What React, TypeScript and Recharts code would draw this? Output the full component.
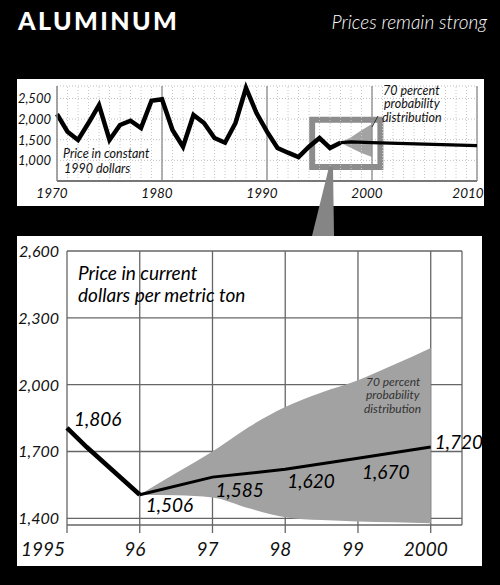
import React from 'react';
import {
  ComposedChart,
  Line,
  Area,
  XAxis,
  YAxis,
  CartesianGrid,
  ReferenceLine,
  ReferenceArea,
  ReferenceDot,
} from 'recharts';

const FONT = 'Lato, "Open Sans", "DejaVu Sans", sans-serif';

// ---------- Top chart: price in constant 1990 dollars ----------
const longYears: number[] = [];
for (let y = 1970; y <= 2010; y++) longYears.push(y);
const longHistoryYears = [
  1970, 1971, 1972, 1973, 1974, 1975, 1976, 1977, 1978, 1979, 1980, 1981, 1982, 1983,
  1984, 1985, 1986, 1987, 1988, 1989, 1990, 1991, 1992, 1993, 1994, 1995, 1996, 1997,
];
const longHistory = [
  2120, 1694, 1493, 1904, 2340, 1493, 1856, 1960, 1783, 2444, 2478, 1735, 1330, 2098,
  1904, 1541, 1427, 1904, 2752, 2146, 1694, 1299, 1185, 1081, 1330, 1541, 1299, 1427,
];
const longForecastYears = [1997, 1998, 2000, 2010];
const longForecast = [1427, 1445, 1430, 1355];
const longBandYears = [1997, 1998, 1999, 2000];
const longBandLow = [1427, 1300, 1180, 1080];
const longBandHigh = [1427, 1560, 1730, 1880];
const longXTicks = [1970, 1980, 1990, 2000, 2010];
const longYTicks = [1000, 1500, 2000, 2500];
const longYLabels = ['1,000', '1,500', '2,000', '2,500'];
const decadeLines = [1980, 1990, 2000, 2010];
const zoomBox = { x1: 1994.3, x2: 2000.8, y1: 840, y2: 1980 };

// ---------- Main chart: price in current dollars per metric ton ----------
const shortYears = [1995, 1995.27, 1996, 1996.5, 1997, 1997.5, 1998, 1998.5, 1999, 1999.5, 2000];
const shortHistory = [1806, 1720, 1506, null, null, null, null, null, null, null, null];
const shortForecast = [null, null, 1506, null, 1585, null, 1620, null, 1670, null, 1720];
const shortBandLow = [null, null, 1506, 1503, 1494, 1445, 1405, 1392, 1386, 1382, 1378];
const shortBandHigh = [null, null, 1506, 1603, 1700, 1810, 1900, 1965, 2020, 2090, 2165];
const shortXTicks = [1995, 1996, 1997, 1998, 1999, 2000];
const shortXLabels = ['1995', '96', '97', '98', '99', '2000'];
const shortYTicks = [1400, 1700, 2000, 2300, 2600];
const shortYLabels = ['1,400', '1,700', '2,000', '2,300', '2,600'];
const labelledYears = [1995, 1996, 1997, 1998, 1999, 2000];
const labelledValues = [1806, 1506, 1585, 1620, 1670, 1720];

// label placement (style only)
const LABEL_OFFSETS = [
  { dx: 7, dy: -2 },
  { dx: 6, dy: 17 },
  { dx: 3, dy: 20 },
  { dx: 2, dy: 19 },
  { dx: 4, dy: 21 },
  { dx: 4, dy: 2 },
];

const fmt = (v: number) => v.toLocaleString('en-US');

const longData = longYears.map((yr) => {
  const hi = longHistoryYears.indexOf(yr);
  const fi = longForecastYears.indexOf(yr);
  const bi = longBandYears.indexOf(yr);
  return {
    year: yr,
    hist: hi >= 0 ? longHistory[hi] : null,
    fc: fi >= 0 ? longForecast[fi] : null,
    band: bi >= 0 ? [longBandLow[bi], longBandHigh[bi]] : undefined,
  };
});

const shortData = shortYears.map((yr, i) => ({
  year: yr,
  hist: shortHistory[i],
  fc: shortForecast[i],
  band:
    shortBandLow[i] != null && shortBandHigh[i] != null
      ? [shortBandLow[i] as number, shortBandHigh[i] as number]
      : undefined,
}));

const TopXTick = (p: any) => {
  const last = p.payload.value === longXTicks[longXTicks.length - 1];
  return (
    <text
      x={p.x - (last ? 9 : 5)}
      y={p.y + 17}
      textAnchor="middle"
      fontFamily={FONT}
      fontStyle="italic"
      fontSize={13.5}
      fill="#111"
    >
      {p.payload.value}
    </text>
  );
};

const TopYTick = (p: any) => {
  const idx = longYTicks.indexOf(p.payload.value);
  return (
    <text
      x={p.x}
      y={p.y + 5}
      textAnchor="end"
      fontFamily={FONT}
      fontStyle="italic"
      fontSize={13}
      fill="#111"
    >
      {longYLabels[idx]}
    </text>
  );
};

const MainXTick = (p: any) => {
  const idx = shortXTicks.indexOf(p.payload.value);
  const first = idx === 0;
  return (
    <text
      x={first ? p.x - 2 : p.x - 5}
      y={p.y + 23}
      textAnchor={first ? 'end' : 'middle'}
      fontFamily={FONT}
      fontStyle="italic"
      fontSize={19}
      fill="#111"
    >
      {shortXLabels[idx]}
    </text>
  );
};

const MainYTick = (p: any) => {
  const idx = shortYTicks.indexOf(p.payload.value);
  return (
    <text
      x={p.x}
      y={p.y + 6}
      textAnchor="end"
      fontFamily={FONT}
      fontStyle="italic"
      fontSize={16}
      fill="#111"
    >
      {shortYLabels[idx]}
    </text>
  );
};

export default function App() {
  return (
    <div
      style={{
        position: 'absolute',
        left: 0,
        top: 0,
        width: 500,
        height: 585,
        background: '#000',
        overflow: 'hidden',
        fontFamily: FONT,
      }}
    >
      {/* top panel */}
      <div style={{ position: 'absolute', left: 17, top: 79, width: 467, height: 127, background: '#fff' }}>
        <ComposedChart
          width={467}
          height={127}
          data={longData}
          margin={{ top: 7, right: 7, bottom: 0, left: 0 }}
        >
          <CartesianGrid vertical={false} stroke="#bdbdbd" strokeDasharray="1 2" />
          {longYears.map((yr) => (
            <ReferenceLine key={'g' + yr} x={yr} stroke="#c8c8c8" strokeDasharray="1 2" />
          ))}
          {decadeLines.map((yr) => (
            <ReferenceLine key={'d' + yr} x={yr} stroke="#8a8a8a" strokeWidth={1.3} />
          ))}
          <ReferenceArea
            x1={zoomBox.x1}
            x2={zoomBox.x2}
            y1={zoomBox.y1}
            y2={zoomBox.y2}
            fill="none"
            fillOpacity={0}
            stroke="#8c8c8c"
            strokeWidth={6}
          />
          <XAxis
            dataKey="year"
            type="number"
            domain={[1970, 2010]}
            ticks={longXTicks}
            interval={0}
            axisLine={{ stroke: '#777', strokeWidth: 2 }}
            tickLine={false}
            tickSize={0}
            tickMargin={0}
            height={25}
            tick={TopXTick}
          />
          <YAxis
            type="number"
            domain={[500, 2800]}
            ticks={longYTicks}
            interval={0}
            width={40}
            axisLine={{ stroke: '#888', strokeWidth: 1.5 }}
            tickLine={false}
            tickSize={0}
            tickMargin={6}
            tick={TopYTick}
          />
          <Area dataKey="band" type="linear" fill="#a3a3a3" fillOpacity={1} stroke="none" isAnimationActive={false} />
          <Line
            dataKey="hist"
            type="linear"
            stroke="#000"
            strokeWidth={4.5}
            dot={false}
            strokeLinejoin="miter"
            isAnimationActive={false}
          />
          <Line
            dataKey="fc"
            type="linear"
            stroke="#000"
            strokeWidth={3.2}
            dot={false}
            connectNulls
            isAnimationActive={false}
          />
        </ComposedChart>
      </div>

      {/* main panel */}
      <div style={{ position: 'absolute', left: 17, top: 236, width: 465, height: 330, background: '#fff' }}>
        <ComposedChart
          width={465}
          height={330}
          data={shortData}
          margin={{ top: 15, right: 20, bottom: 0, left: 0 }}
        >
          <CartesianGrid stroke="#666" strokeWidth={1.3} />
          <XAxis
            dataKey="year"
            type="number"
            domain={[1995, 2000.43]}
            ticks={shortXTicks}
            interval={0}
            axisLine={false}
            tickLine={{ stroke: '#666', strokeWidth: 1.3 }}
            tickSize={8}
            tickMargin={0}
            height={41}
            tick={MainXTick}
          />
          <YAxis
            type="number"
            domain={[1370, 2600]}
            ticks={shortYTicks}
            interval={0}
            width={50}
            axisLine={false}
            tickLine={false}
            tickSize={0}
            tickMargin={8}
            tick={MainYTick}
          />
          <Area dataKey="band" type="monotone" fill="#a2a2a2" fillOpacity={1} stroke="none" isAnimationActive={false} />
          <Line
            dataKey="hist"
            type="linear"
            stroke="#000"
            strokeWidth={4.5}
            dot={false}
            isAnimationActive={false}
          />
          <Line
            dataKey="fc"
            type="linear"
            stroke="#000"
            strokeWidth={3}
            dot={false}
            connectNulls
            isAnimationActive={false}
          />
          {labelledYears.map((yr, i) => (
            <ReferenceDot
              key={'l' + yr}
              x={yr}
              y={labelledValues[i]}
              r={0}
              fill="none"
              stroke="none"
              shape={(p: any) => (
                <text
                  x={p.cx + LABEL_OFFSETS[i].dx}
                  y={p.cy + LABEL_OFFSETS[i].dy}
                  fontFamily={FONT}
                  fontStyle="italic"
                  fontSize={19}
                  fill="#000"
                >
                  {fmt(labelledValues[i])}
                </text>
              )}
            />
          ))}
        </ComposedChart>
      </div>

      {/* overlay: header texts, annotations, connector */}
      <svg
        width={500}
        height={585}
        style={{ position: 'absolute', left: 0, top: 0, pointerEvents: 'none' }}
      >
        <text x={18} y={30} fill="#fff" fontFamily={FONT} fontWeight={900} fontSize={25} letterSpacing={2.4}>
          ALUMINUM
        </text>
        <text
          x={487}
          y={29}
          textAnchor="end"
          fill="#fff"
          fontFamily={FONT}
          fontStyle="italic"
          fontWeight={300}
          fontSize={19}
        >
          Prices remain strong
        </text>

        <g fontFamily={FONT} fontStyle="italic" fontSize={12.5} fill="#111">
          <text x={383} y={95}>70 percent</text>
          <text x={384} y={108}>probability</text>
          <text x={382} y={122}>distribution</text>
          <text x={63} y={158}>Price in constant</text>
          <text x={64} y={173}>1990 dollars</text>
        </g>
        <line x1={378} y1={116} x2={372} y2={127} stroke="#333" strokeWidth={1} />

        <polygon points="329,167 333,167 334,236 312,236" fill="#858585" />

        <g fontFamily={FONT} fontStyle="italic" fontSize={19} fill="#000">
          <text x={78} y={280}>Price in current</text>
          <text x={78} y={302}>dollars per metric ton</text>
        </g>
        <g fontFamily={FONT} fontStyle="italic" fontSize={12} fill="#333">
          <text x={366} y={386}>70 percent</text>
          <text x={366} y={399}>probability</text>
          <text x={364} y={413}>distribution</text>
        </g>
      </svg>
    </div>
  );
}
